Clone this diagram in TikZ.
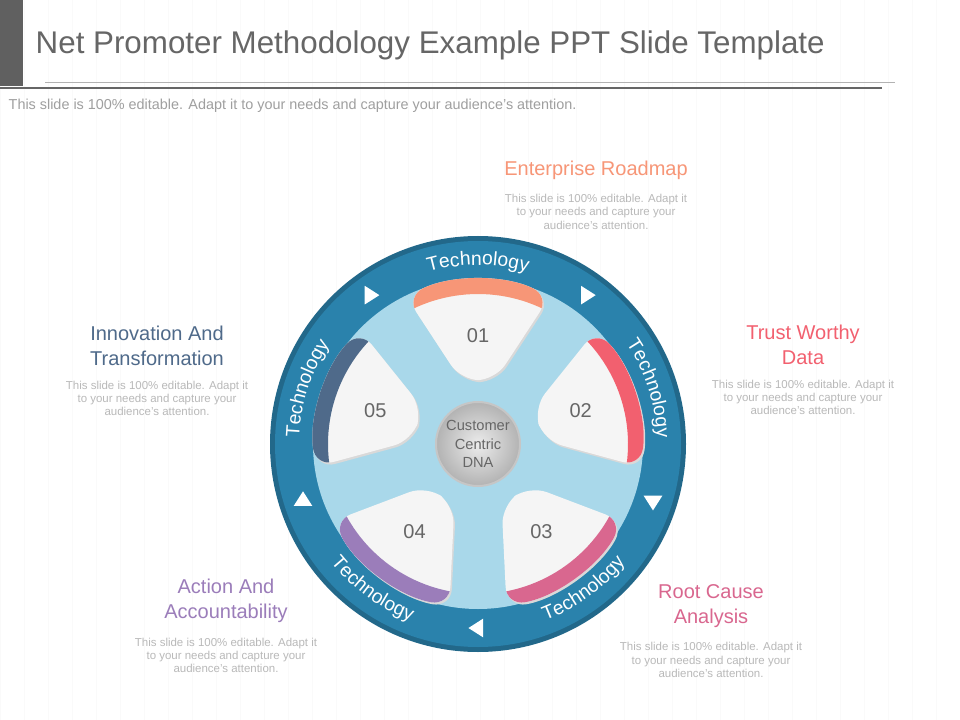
\documentclass[tikz,border=0pt]{standalone}
\usepackage{fontspec}
\setmainfont{Liberation Sans}
\usetikzlibrary{shapes.geometric,positioning,decorations.text}
\definecolor{ringblue}{HTML}{2A82AC}
\definecolor{innerblue}{HTML}{A9D8EA}
\definecolor{cone}{HTML}{F79677}
\definecolor{ctwo}{HTML}{F2606F}
\definecolor{cthree}{HTML}{D9678F}
\definecolor{cfour}{HTML}{9B7DBA}
\definecolor{cfive}{HTML}{4F6A8A}
\definecolor{txtgray}{HTML}{666666}
\newcommand{\techfont}{\fontsize{14.5}{16}\selectfont}
\tikzset{
  desc/.style={align=center, text=gray!55, font=\fontsize{8.6}{10}\selectfont},
  head/.style={align=center, font=\fontsize{15}{19}\selectfont},
  tech/.style={decorate, decoration={text along path, text align=center,
    text color=white, text={|\techfont|Technology}}},
  num/.style={text=txtgray, font=\fontsize{15}{17}\selectfont},
  arrowtri/.style={isosceles triangle, fill=white, inner sep=0pt,
    minimum width=12pt, minimum height=11pt, isosceles triangle apex angle=65},
}
\newcommand{\desctext}{This slide is 100\% editable. Adapt it\\ to your needs and capture your\\ audience’s attention.}
\newcommand{\petal}[1]{(#1-15:66) -- (#1-26:164) arc (#1-26:#1+26:164) -- (#1+15:66) -- cycle}
\begin{document}
\begin{tikzpicture}[x=0.75pt, y=-0.75pt]
\useasboundingbox (0,0) rectangle (960,720);
\fill[white] (0,0) rectangle (960,720);
\draw[gray!4, step=24] (0,0) grid (960,720);

% title
\fill[gray!75!black] (0,0) rectangle (23,86);
\node[anchor=west, text=txtgray, font=\fontsize{23.5}{26}\selectfont] (title) at (31,45)
  {Net Promoter Methodology Example PPT Slide Template};
\draw[gray!60] (45,82) -- (895,82);
\draw[gray!80!black, line width=1.2pt] (0,88) -- (882,88);
\node[anchor=west, text=gray!75, font=\fontsize{10.8}{12}\selectfont] (sub) at (4,106)
  {This slide is 100\% editable. Adapt it to your needs and capture your audience's attention.};

% wheel
\begin{scope}[shift={(478,444)}, y=0.75pt]
  \fill[ringblue!80!black] (0,0) circle (208);
  \fill[ringblue] (0,0) circle (203);
  \fill[innerblue] (0,0) circle (165);
  \foreach \a/\c/\n in {90/cone/01, 18/ctwo/02, -54/cthree/03, -126/cfour/04, 162/cfive/05} {
    \fill[gray!30, rounded corners=14pt, shift={(1.5,-2)}] \petal{\a};
    \fill[gray!8, rounded corners=14pt] \petal{\a};
    \begin{scope}
      \clip[rounded corners=14pt] \petal{\a};
      \fill[\c] (\a-35:150) arc (\a-35:\a+35:150) -- (\a+35:170) arc (\a+35:\a-35:170) -- cycle;
    \end{scope}
    \node[num] (num-\n) at (\a:108) {\n};
  }
  % curved labels
  \foreach \a in {90, 18, 162}
    \path[tech] (\a+30:179) arc (\a+30:\a-30:179);
  \foreach \a in {-54, -126}
    \path[tech] (\a-30:189) arc (\a-30:\a+30:189);
  \foreach \a in {126, 54, -18, -90, -162}
    \node[arrowtri, shape border rotate=\a-90] (tri-\a) at (\a:184) {};
  \shade[inner color=gray!15, outer color=gray!60] (0,0) circle (42);
  \draw[gray!45, line width=1.5pt] (0,0) circle (42);
  \node[align=center, text=txtgray, font=\fontsize{11}{14}\selectfont] (dna) at (0,0)
    {Customer\\Centric\\DNA};
\end{scope}

% labels
\node[head, text=cone] (h1) at (596,170) {Enterprise Roadmap};
\node[desc, below=4pt of h1] (d1) {\desctext};
\node[head, text=ctwo] (h2) at (803,345) {Trust Worthy\\Data};
\node[desc, below=4pt of h2] (d2) {\desctext};
\node[head, text=cthree] (h3) at (711,606) {Root Cause\\Analysis};
\node[desc, below=4pt of h3] (d3) {\desctext};
\node[head, text=cfour] (h4) at (226,601) {Action And\\Accountability};
\node[desc, below=4pt of h4] (d4) {\desctext};
\node[head, text=cfive] (h5) at (157,346) {Innovation And\\Transformation};
\node[desc, below=4pt of h5] (d5) {\desctext};
\end{tikzpicture}
\end{document}
